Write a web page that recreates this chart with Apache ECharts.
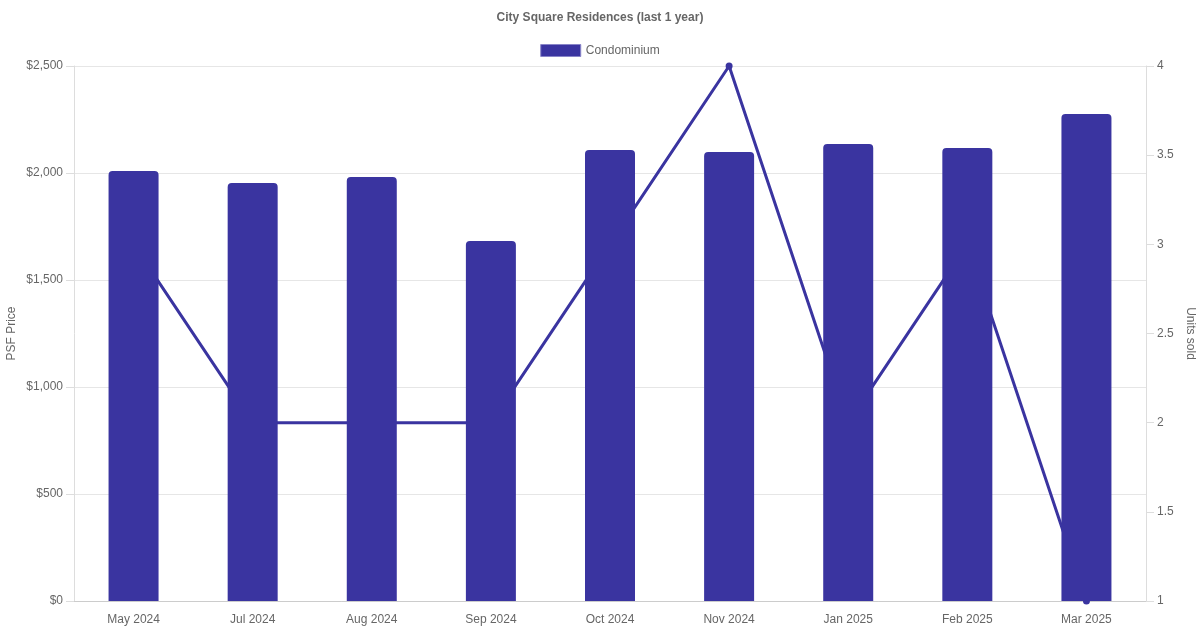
<!DOCTYPE html>
<html><head><meta charset="utf-8">
<script src="https://cdn.jsdelivr.net/npm/echarts@6/dist/echarts.min.js"></script>
<style>html,body{margin:0;padding:0;background:#fff}#c{width:1200px;height:630px}</style>
</head><body><div id="c"></div>
<script>
const categories = ['May 2024','Jul 2024','Aug 2024','Sep 2024','Oct 2024','Nov 2024','Jan 2025','Feb 2025','Mar 2025'];
const psfPrice = [2009, 1953, 1981, 1682, 2107, 2098, 2136, 2117, 2276];
const unitsSold = [3, 2, 2, 2, 3, 4, 2, 3, 1];
const color = '#3a34a0';
const font = 'Liberation Sans, Arial, sans-serif';
const chart = echarts.init(document.getElementById('c'));
chart.setOption({
  animation: false,
  textStyle: {fontFamily: font},
  title: {text: 'City Square Residences (last 1 year)', left: 'center', top: 7,
    textStyle: {fontSize: 12, fontWeight: 'bold', color: '#666', fontFamily: font}},
  legend: {data: [{name: 'Condominium', icon: 'rect'}], top: 39, left: 'center', itemWidth: 40, itemHeight: 12, itemGap: 6,
    textStyle: {fontSize: 12, color: '#666', fontFamily: font},
    itemStyle: {borderColor: '#8884c8', borderWidth: 1}},
  grid: {left: 74, right: 54, top: 66, bottom: 29, containLabel: false, outerBoundsMode: 'none'},
  xAxis: {type: 'category', data: categories,
    axisLine: {lineStyle: {color: '#ccc'}}, axisTick: {show: false},
    axisLabel: {color: '#666', fontSize: 12, margin: 13, fontFamily: font},
    splitLine: {show: false}},
  yAxis: [{
    type: 'value', min: 0, max: 2500, interval: 500, name: 'PSF Price', nameLocation: 'middle', nameGap: 56, nameMoveOverlap: false,
    nameTextStyle: {color: '#666', fontSize: 12, fontFamily: font},
    axisLine: {show: true, lineStyle: {color: '#ddd'}}, axisTick: {show: true, length: 8, lineStyle: {color: '#ddd'}},
    axisLabel: {color: '#666', fontSize: 12, margin: 11, fontFamily: font, formatter: v => '$' + v.toLocaleString('en-US')},
    splitLine: {lineStyle: {color: '#e6e6e6'}}
  }, {
    type: 'value', min: 1, max: 4, interval: 0.5, name: 'Units sold', nameLocation: 'middle', nameGap: 38, nameRotate: -90, nameMoveOverlap: false,
    nameTextStyle: {color: '#666', fontSize: 12, fontFamily: font},
    axisLine: {show: true, lineStyle: {color: '#ddd'}}, axisTick: {show: true, length: 8, lineStyle: {color: '#ddd'}},
    axisLabel: {color: '#666', fontSize: 12, margin: 11, fontFamily: font},
    splitLine: {show: false}
  }],
  series: [{
    name: 'Condominium', type: 'bar', data: psfPrice, yAxisIndex: 0, barWidth: 50, z: 3,
    itemStyle: {color: color, borderRadius: [4, 4, 0, 0]}
  }, {
    name: 'Units', type: 'line', data: unitsSold, yAxisIndex: 1, z: 2,
    symbol: 'circle', symbolSize: 7, showSymbol: true,
    lineStyle: {color: color, width: 3}, itemStyle: {color: color}
  }]
});
</script></body></html>
